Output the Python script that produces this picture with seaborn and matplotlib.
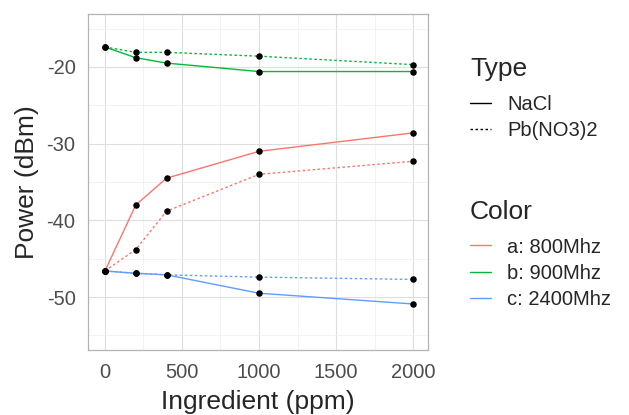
import numpy as np
import pandas as pd
import seaborn as sns
import matplotlib.pyplot as plt
from matplotlib.lines import Line2D

# Dados
ppm = [0, 200, 400, 1000, 2000]
a_nacl = [-46.6, -38.0, -34.5, -31.0, -28.6]
a_pb = [-46.6, -43.8, -38.8, -34.0, -32.3]
b_nacl = [-17.4, -18.8, -19.5, -20.6, -20.6]
b_pb = [-17.4, -18.1, -18.1, -18.6, -19.7]
c_nacl = [-46.6, -46.9, -47.1, -49.5, -50.9]
c_pb = [-46.6, -46.9, -47.1, -47.4, -47.7]

color_labels = ["a: 800Mhz", "b: 900Mhz", "c: 2400Mhz"]
type_labels = ["NaCl", "Pb(NO3)2"]
cores = ["#F8766D", "#00BA38", "#619CFF"]

series = {
    ("a: 800Mhz", "NaCl"): a_nacl, ("a: 800Mhz", "Pb(NO3)2"): a_pb,
    ("b: 900Mhz", "NaCl"): b_nacl, ("b: 900Mhz", "Pb(NO3)2"): b_pb,
    ("c: 2400Mhz", "NaCl"): c_nacl, ("c: 2400Mhz", "Pb(NO3)2"): c_pb,
}
rows = []
for (cor, tipo), vals in series.items():
    for x, y in zip(ppm, vals):
        rows.append({"Ingredient": x, "Power": y, "Color": cor, "Type": tipo})
df = pd.DataFrame(rows)

sns.set_style("white")
plt.rcParams["font.family"] = ["Liberation Sans", "DejaVu Sans"]
plt.rcParams["axes.unicode_minus"] = False

fig = plt.figure(figsize=(6.29, 4.15), dpi=100)
ax = fig.add_axes([88 / 629, 65 / 415, 340 / 629, 336 / 415])

sns.lineplot(data=df, x="Ingredient", y="Power", hue="Color", style="Type",
             hue_order=color_labels, style_order=type_labels,
             palette=cores, dashes={"NaCl": "", "Pb(NO3)2": (1.8, 1.8)},
             linewidth=1.0, ax=ax, legend=False, zorder=3)
sns.scatterplot(data=df, x="Ingredient", y="Power", color="black", s=22,
                edgecolor="black", linewidth=0, ax=ax, legend=False, zorder=4)

ax.set_xlim(-110, 2097)
ax.set_ylim(-56.9, -13.1)
ax.set_xticks([0, 500, 1000, 1500, 2000])
ax.set_yticks([-50, -40, -30, -20])
ax.set_xticks([250, 750, 1250, 1750], minor=True)
ax.set_yticks([-55, -45, -35, -25, -15], minor=True)
ax.grid(True, which="major", color="#DEDEDE", linewidth=0.8)
ax.grid(True, which="minor", color="#EFEFEF", linewidth=0.5)
ax.set_axisbelow(True)
for s in ax.spines.values():
    s.set_color("#B3B3B3")
    s.set_linewidth(0.9)
ax.tick_params(which="major", length=3.5, color="#B3B3B3", labelsize=14.5,
               labelcolor="#4D4D4D", pad=5.5)
ax.tick_params(which="minor", length=0)
ax.set_xlabel("Ingredient (ppm)", fontsize=19, labelpad=6)
ax.set_ylabel("Power (dBm)", fontsize=19, labelpad=5.5)

# Legendas: títulos como texto, entradas como legenda sem título
fig.text(470 / 629, 1 - 76 / 415, "Type", fontsize=19, va="baseline", ha="left")
fig.text(470 / 629, 1 - 219 / 415, "Color", fontsize=19, va="baseline", ha="left")

h_tipo = [Line2D([], [], color="black", lw=1.0, linestyle="-"),
          Line2D([], [], color="black", lw=1.0, linestyle=(0, (1.8, 1.8)))]
leg1 = fig.legend(h_tipo, type_labels, loc="upper left",
                  bbox_to_anchor=(470 / 629, 1 - 95 / 415), frameon=False,
                  fontsize=14.5, handlelength=1.05, handletextpad=0.8,
                  borderpad=0, borderaxespad=0, labelspacing=0.36)
h_cor = [Line2D([], [], color=c, lw=1.0) for c in cores]
leg2 = fig.legend(h_cor, color_labels, loc="upper left",
                  bbox_to_anchor=(470 / 629, 1 - 237.5 / 415), frameon=False,
                  fontsize=14.5, handlelength=1.05, handletextpad=0.8,
                  borderpad=0, borderaxespad=0, labelspacing=0.36)

fig.savefig("out.png", dpi=100)
